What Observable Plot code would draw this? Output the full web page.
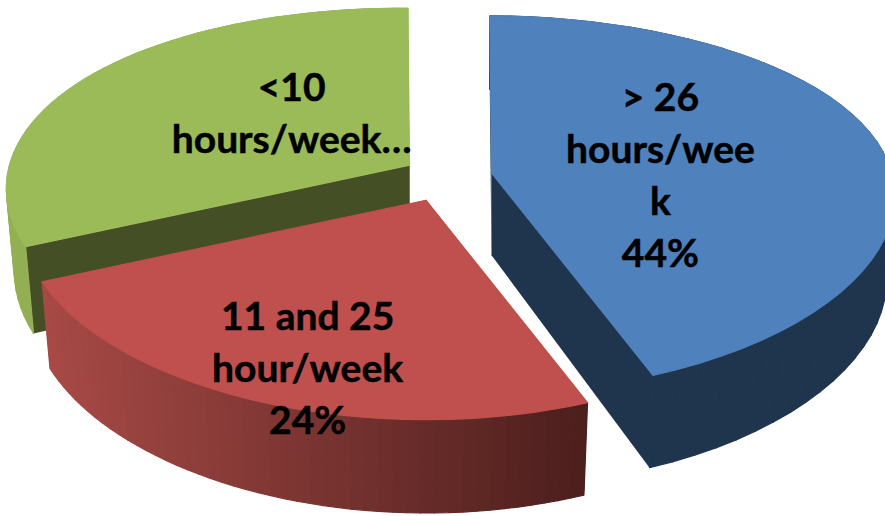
<!DOCTYPE html>
<html><head><meta charset="utf-8">
<style>html,body{margin:0;padding:0;background:#fff;overflow:hidden}svg{display:block}</style>
<script src="https://cdn.jsdelivr.net/npm/d3@7"></script>
<script src="https://cdn.jsdelivr.net/npm/@observablehq/plot@0.6"></script>
</head><body><div id="chart"></div>
<script>
const labels = ["> 26\nhours/wee\nk\n44%", "11 and 25\nhour/week\n24%", "<10\nhours/week…"];
const values = [44, 24, 32];
const topColors = ["#4f81bd", "#c0504d", "#9bbb59"];
const cutColors = ["#1f344d", "#4a1e1c", "#454f26"];
const wallFrom = ["#1f344d", "#a84a46", "#93b053"];
const wallTo = ["#1f344d", "#4d1f1d", "#7f9a49"];
const labelX = [0.533, -0.349, -0.389];
const labelY = [-0.011, 0.4725, -0.165];
const explodeBy = [0.1125, 0.14, 0.1125];

// camera of the tilted pie, in pie radii
const tilt = 0.4577, perspX = 0.125, perspY = 0.166, depth = 0.21, shrink = 0.02, keystone = 0.015, turn = 0.7 * Math.PI / 180;
const project = (u, v, z) => ({
  x: u / (1 - perspX * v + shrink * z) - (v < 0 ? keystone * v * v : 0),
  y: (tilt * v + depth * z) / (1 - perspY * v + shrink * z)
});
let acc = 0;
const total = d3.sum(values);
const slices = values.map((val, i) => {
  const a0 = turn + acc / total * 2 * Math.PI; acc += val;
  const a1 = turn + acc / total * 2 * Math.PI, mid = (a0 + a1) / 2;
  return {i, a0, a1, dx: explodeBy[i] * Math.sin(mid), dy: -explodeBy[i] * Math.cos(mid) * tilt};
});
const at = (s, p) => ({x: p.x + s.dx, y: p.y + s.dy});
const rim = (s, a, z) => at(s, project(Math.sin(a), -Math.cos(a), z));
const hub = (s, z) => at(s, project(0, 0, z));
const n = 48;
const polyMark = (polys, strokeWidth) => Plot.line(polys, {x: "x", y: "y", z: "k", fill: "color", stroke: "color", strokeWidth, curve: "linear-closed"});
const sliceMarks = i => {
  const s = slices[i], cut = [], side = [], top = [];
  let id = 0;
  const add = (out, pts, color) => { const k = id++; pts.forEach(p => out.push({...p, k, color})); };
  const ang = j => s.a0 + (s.a1 - s.a0) * j / n;
  add(cut, [hub(s,0), rim(s,s.a0,0), rim(s,s.a0,1), hub(s,1)], cutColors[i]);
  add(cut, [hub(s,0), rim(s,s.a1,0), rim(s,s.a1,1), hub(s,1)], cutColors[i]);
  const xs = d3.range(n + 1).map(j => rim(s, ang(j), 0).x);
  const [lo, hi] = d3.extent(xs), mix = d3.interpolateRgb(wallFrom[i], wallTo[i]);
  d3.range(n).forEach(j => add(side, [rim(s,ang(j),0), rim(s,ang(j+1),0), rim(s,ang(j+1),1), rim(s,ang(j),1)], mix((xs[j] - lo) / (hi - lo))));
  add(top, [hub(s,0), ...d3.range(n + 1).map(j => rim(s, ang(j), 0))], topColors[i]);
  return [polyMark(cut, 0), polyMark(side, 1.2), polyMark(top, 1.2)];
};
const texts = labels.map((t, i) => ({t, x: labelX[i], y: labelY[i]}));

document.getElementById("chart").append(Plot.plot({
  width: 885, height: 516, margin: 0,
  x: {domain: [-446.7 / 400, 438.3 / 400], range: [0, 885], axis: null},
  y: {domain: [-176 / 400, 340 / 400], range: [0, 516], axis: null},
  marks: [
    ...sliceMarks(2), ...sliceMarks(1), ...sliceMarks(0),
    Plot.text(texts, {x: "x", y: "y", text: "t", fontSize: 39, fontWeight: 700, fontFamily: "Lato", fill: "#000", stroke: "#000", strokeWidth: 0.5, lineHeight: 1.335, lineAnchor: "middle", textAnchor: "middle"})
  ],
  style: {background: "#fff"}
}));
</script></body></html>
